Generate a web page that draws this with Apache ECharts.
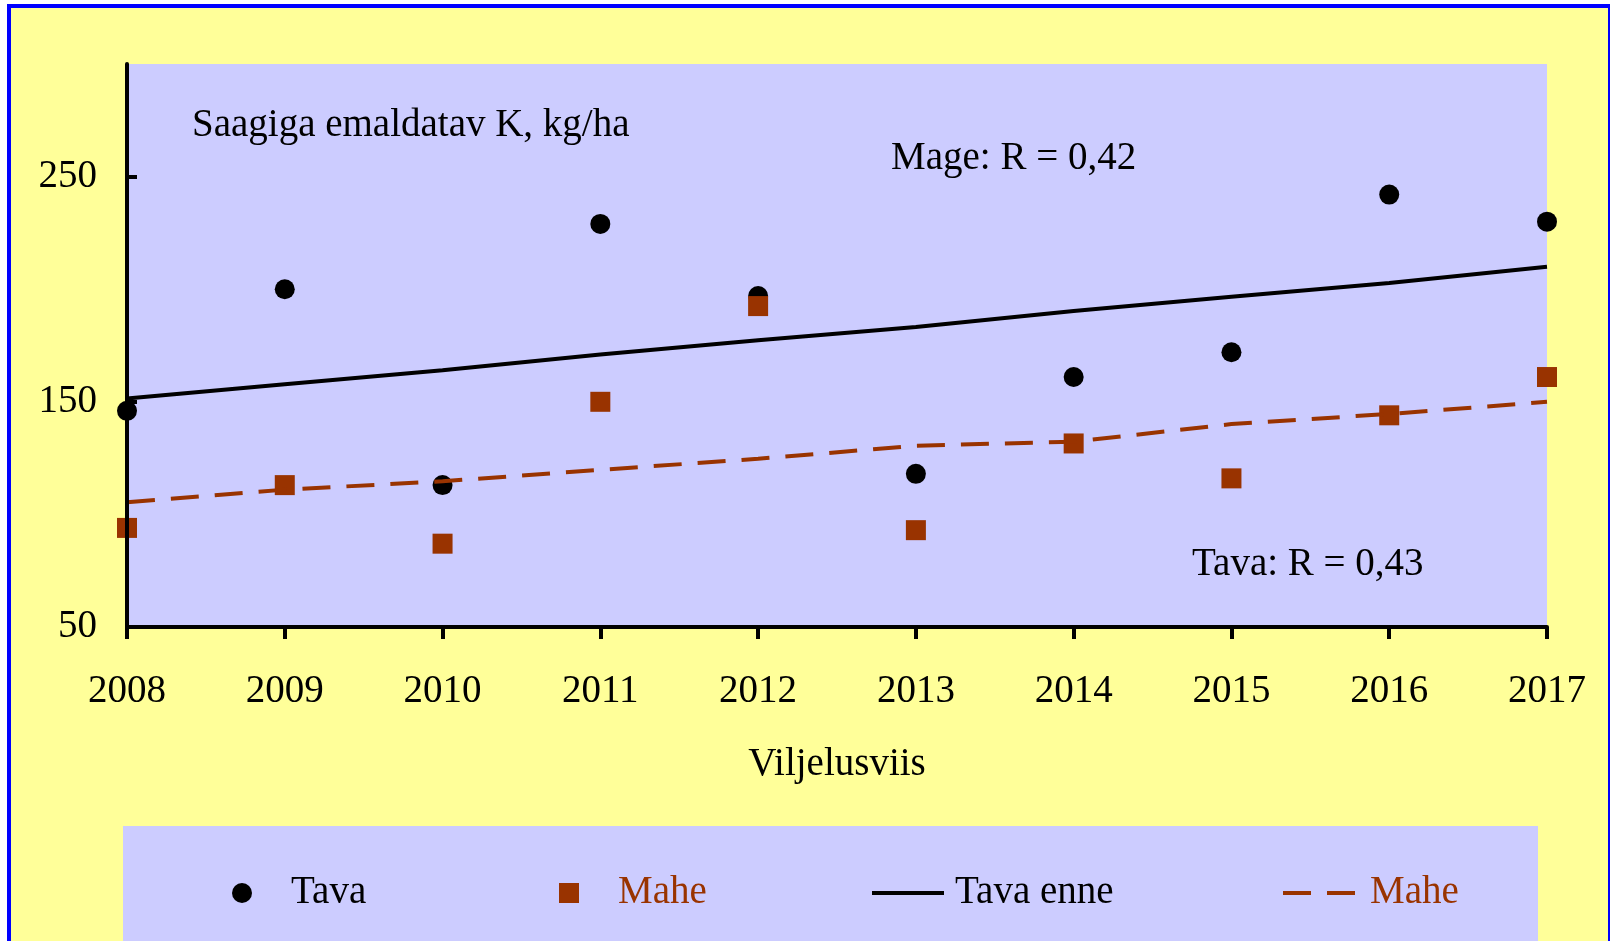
<!DOCTYPE html>
<html lang="et" style="height:100%">
<head>
    <meta charset="UTF-8">
    <title>Saagiga emaldatav K</title>
    <script src="https://cdn.jsdelivr.net/npm/echarts@6/dist/echarts.min.js"></script>
</head>
<body style="height:100%;margin:0">
<div id="main" style="width:1610px;height:941px;"></div>
<script type="text/javascript">
    // andmed
    var aastad = ['2008', '2009', '2010', '2011', '2012', '2013', '2014', '2015', '2016', '2017'];
    var tava = [146, 200, 113, 229, 197, 118, 161, 172, 242, 230];
    var mahe = [94, 113, 87, 150, 192.5, 93, 131.5, 116, 144, 161];
    var tavaTrend = [151.5, 157.8, 164, 171, 177.3, 183.2, 190.3, 196.6, 202.8, 210];
    var maheTrend = [105.4, 111, 114.7, 119.8, 124.7, 130.5, 132.3, 140.1, 144.6, 150];
    var yTicks = [50, 150, 250];

    var punane = '#993300';
    var font = 'Liberation Serif';

    var myChart = echarts.init(document.getElementById('main'));

    // legendi ikoonid joontele
    var joonIkoon = 'path://M0,0H72V4H0Z';
    var kriipsIkoon = 'path://M0,0H28V4H0Z M44,0H72V4H44Z';

    function legendItem(name, icon, left, width, gap, color) {
        var item = {name: name};
        if (icon) item.icon = icon;
        return {
            data: [item],
            left: left,
            top: 869,
            padding: 0,
            itemWidth: width,
            itemHeight: 20,
            selectedMode: false,
            formatter: function (n) { return n === 'Mahe trend' ? 'Mahe' : n; },
            textStyle: {
                fontFamily: font, fontSize: 39, lineHeight: 40, color: color,
                padding: [8, 0, 0, gap]
            }
        };
    }

    var option = {
        backgroundColor: '#ffffff',
        animation: false,
        graphic: [
            {
                type: 'rect', z: -10, silent: true,
                shape: {x: 9, y: 6, width: 1601, height: 960},
                style: {fill: '#FFFF99', stroke: '#0000FF', lineWidth: 4}
            },
            {
                type: 'rect', z: -9, silent: true,
                shape: {x: 123, y: 826, width: 1415, height: 140},
                style: {fill: '#CCCCFF'}
            },
            {
                type: 'text', z: 5, silent: true,
                style: {text: 'Saagiga emaldatav K, kg/ha', x: 192, y: 126, verticalAlign: 'middle',
                    font: '39px "Liberation Serif"', fill: '#000'}
            },
            {
                type: 'text', z: 5, silent: true,
                style: {text: 'Mage: R = 0,42', x: 891, y: 159, verticalAlign: 'middle',
                    font: '39px "Liberation Serif"', fill: '#000'}
            },
            {
                type: 'text', z: 5, silent: true,
                style: {text: 'Tava: R = 0,43', x: 1192, y: 565, verticalAlign: 'middle',
                    font: '39px "Liberation Serif"', fill: '#000'}
            }
        ],
        legend: [
            legendItem('Tava', null, 232, 20, 34, '#000'),
            legendItem('Mahe', null, 559, 20, 34, punane),
            legendItem('Tava enne', joonIkoon, 872, 72, 6, '#000'),
            legendItem('Mahe trend', kriipsIkoon, 1283, 72, 10, punane)
        ],
        grid: {
            left: 127, right: 63, top: 64, bottom: 314,
            show: true, backgroundColor: '#CCCCFF', borderWidth: 0
        },
        xAxis: {
            type: 'category',
            data: aastad,
            boundaryGap: false,
            z: 10,
            name: 'Viljelusviis',
            nameLocation: 'middle',
            nameGap: 118,
            nameTextStyle: {fontFamily: font, fontSize: 39, color: '#000'},
            axisLine: {lineStyle: {color: '#000', width: 4}},
            axisTick: {show: true, length: 12, lineStyle: {color: '#000', width: 4}},
            axisLabel: {fontFamily: font, fontSize: 39, color: '#000', margin: 45},
            splitLine: {show: false}
        },
        yAxis: {
            type: 'value',
            min: 50,
            max: 300,
            interval: 100,
            z: 10,
            axisLine: {show: true, lineStyle: {color: '#000', width: 4}},
            axisTick: {show: true, inside: true, length: 10, customValues: yTicks,
                lineStyle: {color: '#000', width: 4}},
            axisLabel: {fontFamily: font, fontSize: 39, color: '#000', margin: 30, customValues: yTicks},
            splitLine: {show: false}
        },
        series: [
            {
                name: 'Tava',
                type: 'scatter',
                symbol: 'circle',
                symbolSize: 20,
                itemStyle: {color: '#000', opacity: 1},
                data: tava
            },
            {
                name: 'Tava enne',
                type: 'line',
                symbol: 'none',
                lineStyle: {color: '#000', width: 4},
                itemStyle: {color: '#000'},
                data: tavaTrend
            },
            {
                name: 'Mahe trend',
                type: 'line',
                symbol: 'none',
                lineStyle: {color: punane, width: 4, type: [28, 16]},
                itemStyle: {color: punane},
                data: maheTrend
            },
            {
                name: 'Mahe',
                type: 'scatter',
                symbol: 'rect',
                symbolSize: 20,
                itemStyle: {color: punane, opacity: 1},
                data: mahe
            }
        ]
    };
    myChart.setOption(option);
</script>
</body>
</html>
